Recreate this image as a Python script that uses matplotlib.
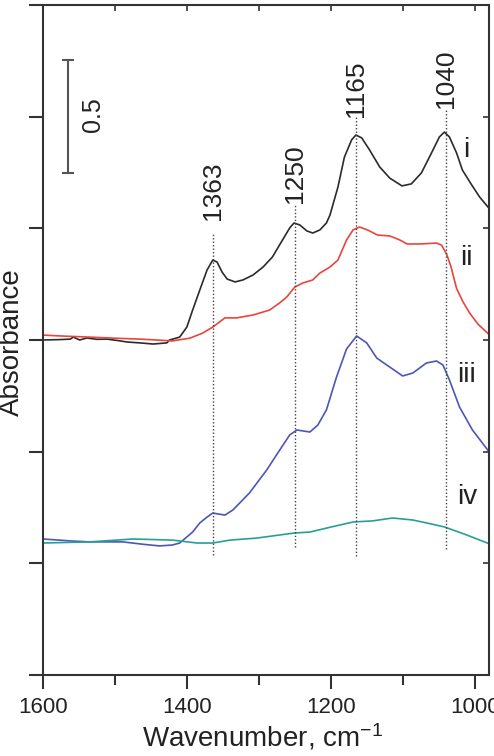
import numpy as np
import matplotlib.pyplot as plt

plt.rcParams['font.family'] = ['Liberation Sans', 'DejaVu Sans']
plt.rcParams['mathtext.default'] = 'regular'

# spectrum i (black)
wn_i = [1600, 1575, 1562, 1558, 1549, 1539, 1525, 1511, 1495, 1483, 1465, 1447,
        1428, 1424, 1410, 1400, 1392, 1382, 1372, 1364, 1358, 1351, 1344, 1333,
        1322, 1308, 1294, 1281, 1267, 1257, 1251, 1243, 1233, 1225, 1215, 1206,
        1201, 1190, 1181, 1171, 1165, 1157, 1146, 1132, 1118, 1101, 1088, 1074,
        1060, 1049, 1042, 1035, 1025, 1017, 1004, 993, 980]
abs_i = [1.500, 1.502, 1.504, 1.513, 1.500, 1.509, 1.503, 1.504, 1.497, 1.491,
         1.487, 1.482, 1.487, 1.500, 1.513, 1.558, 1.634, 1.724, 1.813, 1.858,
         1.849, 1.804, 1.773, 1.760, 1.769, 1.791, 1.827, 1.872, 1.948, 2.002,
         2.024, 2.015, 1.988, 1.979, 1.993, 2.024, 2.060, 2.185, 2.319, 2.396,
         2.418, 2.405, 2.351, 2.275, 2.225, 2.190, 2.199, 2.248, 2.337, 2.409,
         2.431, 2.409, 2.337, 2.261, 2.194, 2.140, 2.090]

# spectrum ii (red)
wn_ii = [1600, 1575, 1535, 1500, 1465, 1420, 1396, 1378, 1364, 1347, 1331, 1308,
         1285, 1271, 1261, 1250, 1239, 1225, 1215, 1201, 1190, 1178, 1169, 1160,
         1149, 1135, 1118, 1104, 1094, 1076, 1053, 1046, 1039, 1033, 1025, 1016,
         1007, 995, 980]
abs_ii = [1.522, 1.518, 1.513, 1.508, 1.504, 1.496, 1.508, 1.531, 1.558, 1.599,
          1.599, 1.612, 1.634, 1.666, 1.693, 1.737, 1.755, 1.769, 1.800, 1.827,
          1.858, 1.948, 1.993, 2.006, 1.993, 1.970, 1.966, 1.948, 1.930, 1.930,
          1.934, 1.925, 1.885, 1.830, 1.730, 1.670, 1.621, 1.570, 1.525]

# spectrum iii (blue)
wn_iii = [1600, 1560, 1535, 1489, 1460, 1438, 1420, 1410, 1392, 1382, 1372, 1364,
          1347, 1336, 1313, 1289, 1271, 1257, 1247, 1229, 1218, 1206, 1192, 1178,
          1164, 1150, 1136, 1118, 1100, 1086, 1067, 1053, 1044, 1035, 1021, 1003,
          980]
abs_iii = [0.609, 0.600, 0.596, 0.596, 0.585, 0.578, 0.582, 0.591, 0.640, 0.681,
           0.707, 0.725, 0.716, 0.739, 0.815, 0.918, 1.007, 1.075, 1.097, 1.088,
           1.119, 1.187, 1.334, 1.460, 1.518, 1.487, 1.419, 1.379, 1.339, 1.352,
           1.397, 1.406, 1.388, 1.321, 1.200, 1.097, 1.000]

# spectrum iv (teal)
wn_iv = [1600, 1535, 1475, 1420, 1386, 1364, 1340, 1303, 1250, 1229, 1199, 1169,
         1142, 1114, 1086, 1067, 1042, 1011, 980]
abs_iv = [0.591, 0.596, 0.609, 0.604, 0.591, 0.591, 0.604, 0.613, 0.636, 0.640,
          0.663, 0.685, 0.690, 0.703, 0.694, 0.681, 0.663, 0.627, 0.588]

# marked bands: position, dotted line top/bottom, label baseline
peak_pos = [1363, 1250, 1165, 1040]
peak_top = [1.979, 2.104, 2.499, 2.530]
peak_bottom = [0.537, 0.573, 0.533, 0.564]
peak_label_y = [2.037, 2.113, 2.499, 2.540]

series_names = ['i', 'ii', 'iii', 'iv']
name_y = [2.351, 1.867, 1.343, 0.797]
colors = ['#2b2b2b', '#e8453c', '#4c57b5', '#26a095']

fig = plt.figure(figsize=(4.94, 7.56), dpi=100)
ax = fig.add_axes([43 / 494, 1 - 675 / 756, 446 / 494, 670 / 756])

for wn, ab, c in zip([wn_i, wn_ii, wn_iii, wn_iv],
                     [abs_i, abs_ii, abs_iii, abs_iv], colors):
    ax.plot(wn, ab, color=c, lw=1.2)

# dotted guide lines and band labels
for p, top, bot, ly in zip(peak_pos, peak_top, peak_bottom, peak_label_y):
    ax.plot([p, p], [bot, top], color='#444444', lw=1.0, ls=(0, (1, 1.5)))
    ax.text(p, ly, str(p), rotation=90, ha='center', va='bottom',
            fontsize=19, color='#222222')

for name, y in zip(series_names, name_y):
    ax.text(1011, y, name, ha='center', va='center', fontsize=20,
            color='#222222')

# scale bar
ax.plot([1565, 1565], [2.248, 2.754], color='#555555', lw=1.5)
ax.plot([1565, 1565], [2.248, 2.754], color='#555555', ls='none',
        marker='_', ms=9, mew=1.5)
ax.text(1531, 2.508, '0.5', rotation=90, ha='center', va='center',
        fontsize=18, color='#222222')

ax.set_xlim(1600, 980)
ax.set_ylim(0, 3.0)
ax.set_xticks([1600, 1400, 1200, 1000])
ax.set_xticks([1500, 1300, 1100], minor=True)
ax.set_yticks(np.arange(0, 3.01, 0.5))
ax.set_yticklabels([])

for s in ax.spines.values():
    s.set_color('#333333')
    s.set_linewidth(1.5)

ax.tick_params(axis='x', which='major', direction='out', length=10, width=1.5,
               labelsize=16, pad=6, colors='#333333', labelcolor='#222222')
ax.tick_params(axis='x', which='minor', direction='out', length=7, width=1.5,
               colors='#333333')
ax.tick_params(axis='y', which='major', direction='out', length=10, width=1.5,
               colors='#333333')

# short inward ticks on top and right
top = ax.secondary_xaxis('top')
top.set_xticks([1600, 1500, 1400, 1300, 1200, 1100, 1000])
top.tick_params(direction='in', length=4, width=1.2, labeltop=False,
                colors='#333333')
right = ax.secondary_yaxis('right')
right.set_yticks(np.arange(0, 3.01, 0.5))
right.tick_params(direction='in', length=4, width=1.2, labelright=False,
                  colors='#333333')
for sec in (top, right):
    for s in sec.spines.values():
        s.set_visible(False)

fig.text(12 / 494, 1 - 342 / 756, 'Absorbance', rotation=90, ha='center',
         va='center', fontsize=20, color='#222222')
fig.text(262 / 494, 9 / 756, 'Wavenumber, cm$^{-1}$', ha='center',
         va='baseline', fontsize=20, color='#222222')

fig.savefig('out.png', dpi=100)
